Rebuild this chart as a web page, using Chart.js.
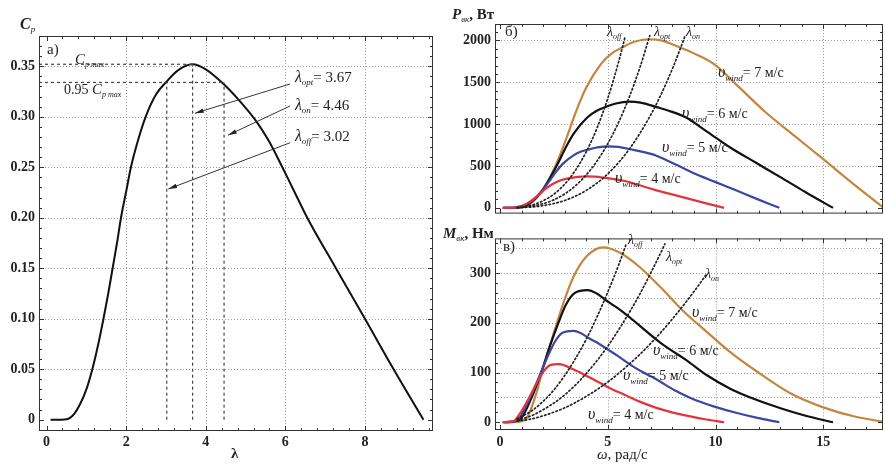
<!DOCTYPE html>
<html>
<head>
<meta charset="utf-8">
<script src="https://cdn.jsdelivr.net/npm/chart.js@4"></script>
<style>
  body { margin: 0; width: 885px; height: 464px; overflow: hidden; background: #fff; }
  canvas { position: absolute; }
</style>
</head>
<body>
<canvas id="cpChart" width="440" height="464" style="left:0;top:0"></canvas>
<canvas id="powerChart" width="445" height="226" style="left:440px;top:0"></canvas>
<canvas id="torqueChart" width="445" height="238" style="left:440px;top:226px"></canvas>
<script>
// ---- a) Cp(lambda)
const lambdaVals = [0.1, 0.3, 0.55, 0.7, 0.85, 1.0, 1.15, 1.3, 1.43, 1.55, 1.66, 1.77, 1.87, 2.0, 2.12, 2.3, 2.49, 2.75, 3.02, 3.3, 3.67, 4.0, 4.46, 4.8, 5.28, 5.6, 5.9, 6.2, 6.55, 7.27, 8.0, 8.72, 9.47];
const cpVals = [0, 0, 0.001, 0.006, 0.016, 0.03, 0.05, 0.075, 0.10, 0.125, 0.15, 0.175, 0.20, 0.226, 0.25, 0.277, 0.30, 0.322, 0.335, 0.346, 0.352, 0.347, 0.332, 0.318, 0.295, 0.275, 0.252, 0.228, 0.20, 0.15, 0.10, 0.05, 0];
const lamOff = 3.02, lamOpt = 3.67, lamOn = 4.46;
const cpMax = 0.352, cp95 = 0.334;
const lambdaTicks = [0, 2, 4, 6, 8];
const cpTicks = [0, 0.05, 0.10, 0.15, 0.20, 0.25, 0.30, 0.35];

// ---- б) P(omega), one table per wind speed
const omega4 = [0.11, 0.60, 0.93, 1.26, 1.57, 1.82, 2.05, 2.33, 2.73, 3.02, 3.32, 3.62, 4.03, 4.39, 4.90, 5.27, 5.80, 6.48, 7.19, 7.98, 8.78, 9.57, 10.40];
const power4 = [0, 1, 17, 53, 107, 160, 214, 267, 320, 344, 358, 370, 376, 373, 357, 344, 320, 269, 214, 160, 107, 53, 0];
const omega5 = [0.14, 0.75, 1.16, 1.57, 1.96, 2.27, 2.56, 2.90, 3.41, 3.76, 4.13, 4.52, 5.02, 5.48, 6.11, 6.57, 7.23, 8.08, 8.97, 9.95, 10.95, 11.94, 12.96];
const power5 = [0, 2, 33, 104, 209, 313, 417, 522, 626, 672, 699, 722, 734, 728, 697, 672, 626, 526, 417, 313, 209, 104, 0];
const omega6 = [0.16, 0.90, 1.39, 1.88, 2.33, 2.71, 3.05, 3.46, 4.06, 4.49, 4.93, 5.38, 5.99, 6.52, 7.27, 7.83, 8.61, 9.62, 10.68, 11.86, 13.05, 14.22, 15.45];
const power6 = [0, 4, 58, 180, 361, 541, 721, 901, 1082, 1161, 1208, 1247, 1269, 1258, 1204, 1161, 1082, 908, 721, 541, 361, 180, 0];
const omega7 = [0.19, 1.03, 1.60, 2.16, 2.69, 3.12, 3.52, 3.99, 4.68, 5.17, 5.68, 6.20, 6.90, 7.52, 8.38, 9.02, 9.93, 11.09, 12.31, 13.67, 15.04, 16.39, 17.80];
const power7 = [0, 6, 92, 286, 572, 859, 1145, 1431, 1717, 1843, 1918, 1981, 2015, 1998, 1912, 1843, 1717, 1442, 1145, 859, 572, 286, 0];
// lambda = const loci on the power plot
const omegaOffP = [0.8, 1.5, 2, 2.5, 3, 3.5, 4, 4.5, 5, 5.5, 5.8];
const powerOff = [5, 35, 84, 163, 282, 449, 669, 953, 1308, 1741, 2041];
const omegaOptP = [0.8, 1.5, 2, 2.5, 3, 3.5, 4, 4.5, 5, 5.5, 6, 6.5, 6.95];
const powerOpt = [3, 21, 49, 96, 166, 263, 393, 559, 767, 1021, 1325, 1684, 2059];
const omegaOnP = [0.8, 1.5, 2, 3, 4, 5, 6, 7, 7.5, 8, 8.5, 8.6];
const powerOn = [2, 11, 26, 88, 208, 406, 702, 1114, 1371, 1663, 1995, 2066];
const powerTicks = [0, 500, 1000, 1500, 2000];

// ---- в) M(omega)
const torque4 = [0, 1.7, 18, 42, 68, 88, 104, 115, 117, 114, 108, 102, 93, 85, 73, 65, 55, 41.5, 30, 20, 12.2, 5.5, 0];
const torque5 = [0, 2.7, 28, 66, 107, 138, 163, 180, 184, 179, 169, 160, 146, 133, 114, 102, 87, 65, 46.5, 31.5, 19, 8.7, 0];
const torque6 = [0, 4.4, 42, 96, 155, 200, 236, 260, 266, 259, 245, 232, 212, 193, 166, 148, 126, 94, 67.5, 45.6, 27.7, 12.7, 0];
const omegaM7 = [0.19, 0.8, 1.05, 1.24, 1.7, 2.01, 2.47, 2.94, 3.40, 4.02, 4.79, 5.57, 6.49, 7.42, 8.5, 9.59, 10.8, 12.06, 13.45, 15.0, 16.5, 17.8];
const torque7 = [0, 0.5, 3, 8, 60, 111, 176, 240, 292, 334, 352, 341, 312, 273, 224, 182, 137, 98, 59, 30, 11, 1];
const omegaOffM = [0.8, 1.5, 2, 2.5, 3, 3.5, 4, 4.5, 5, 5.5, 5.85];
const torqueOff = [7, 24, 42, 65, 94, 128, 167, 212, 262, 316, 358];
const omegaOptM = [0.8, 1.5, 2, 3, 4, 5, 6, 6.5, 7, 7.5, 7.65];
const torqueOpt = [4, 14, 25, 55, 98, 153, 221, 259, 301, 345, 359];
const omegaOnM = [0.8, 1.5, 2, 3, 4, 5, 6, 7, 8, 9, 9.6];
const torqueOn = [2, 7, 13, 29, 52, 81, 117, 159, 208, 263, 299];
const torqueTicks = [0, 50, 100, 150, 200, 250, 300, 350];
const omegaTicks = [0, 5, 10, 15];

const colors = { v4: '#e2353b', v5: '#3b47a3', v6: '#111111', v7: '#c4863f' };

const F = (size, style) => `${style || ''} ${size}px "Liberation Serif", serif`;
const pts = (xs, ys) => xs.map((x, i) => ({ x: x, y: ys[i] }));

// draws text pieces one after another (for subscripts)
function rich(ctx, x, y, parts) {
    let cx = x;
    parts.forEach(([t, font, dy]) => {
        ctx.font = font;
        ctx.fillText(t, cx, y + (dy || 0));
        cx += ctx.measureText(t).width;
    });
}

function arrow(ctx, x1, y1, x2, y2) {
    const a = Math.atan2(y2 - y1, x2 - x1);
    ctx.beginPath();
    ctx.moveTo(x1, y1);
    ctx.lineTo(x2, y2);
    ctx.stroke();
    ctx.beginPath();
    ctx.moveTo(x2, y2);
    ctx.lineTo(x2 - 9 * Math.cos(a - 0.25), y2 - 9 * Math.sin(a - 0.25));
    ctx.lineTo(x2 - 9 * Math.cos(a + 0.25), y2 - 9 * Math.sin(a + 0.25));
    ctx.closePath();
    ctx.fill();
}

function curve(data, color, width) {
    return {
        data: data, showLine: true, borderColor: color, borderWidth: width || 2.2,
        pointRadius: 0, cubicInterpolationMode: 'monotone', fill: false,
    };
}

function dotted(data) {
    return {
        data: data, showLine: true, borderColor: '#222', borderWidth: 1.7,
        borderDash: [1.5, 2.5], borderCapStyle: 'round',
        pointRadius: 0, cubicInterpolationMode: 'monotone', fill: false,
    };
}

function dashed(data) {
    return {
        data: data, showLine: true, borderColor: '#444', borderWidth: 1.2,
        borderDash: [3, 3], pointRadius: 0, tension: 0, fill: false,
    };
}

function axis(min, max, ticks, size, horizontal, tickOpts) {
    return {
        type: 'linear', min: min, max: max,
        afterBuildTicks: (s) => { s.ticks = ticks.map((v) => ({ value: v })); },
        afterFit: (s) => { if (horizontal) s.height = size; else s.width = size; },
        grid: { display: false, drawTicks: false },
        border: { display: false },
        ticks: Object.assign({
            font: { family: 'Liberation Serif', size: 14, weight: 'bold' }, color: '#222',
            callback: (v) => String(v),
        }, tickOpts),
    };
}

// dotted grid at the tick values, frame with inward major/minor ticks (Mathematica style)
const framePlugin = {
    id: 'frame',
    beforeDatasetsDraw(chart) {
        const { ctx, chartArea: a, scales: { x, y } } = chart;
        ctx.save();
        ctx.strokeStyle = '#999';
        ctx.lineWidth = 1;
        ctx.setLineDash([1, 2]);
        x.ticks.forEach((t) => {
            if (t.value === 0) return;
            const p = Math.round(x.getPixelForValue(t.value)) + 0.5;
            ctx.beginPath(); ctx.moveTo(p, a.top); ctx.lineTo(p, a.bottom); ctx.stroke();
        });
        y.ticks.forEach((t) => {
            if (t.value === 0) return;
            const p = Math.round(y.getPixelForValue(t.value)) + 0.5;
            ctx.beginPath(); ctx.moveTo(a.left, p); ctx.lineTo(a.right, p); ctx.stroke();
        });
        ctx.restore();
    },
    afterDatasetsDraw(chart, args, opts) {
        const { ctx, chartArea: a, scales } = chart;
        ctx.save();
        ctx.strokeStyle = '#333';
        ctx.lineWidth = 1;
        ctx.strokeRect(a.left + 0.5, a.top + 0.5, a.right - a.left - 1, a.bottom - a.top - 1);
        const tickRun = (scale, step, minor, horizontal) => {
            const start = Math.ceil(scale.min / minor) * minor;
            for (let v = start; v <= scale.max + 1e-9; v += minor) {
                const major = Math.abs(v / step - Math.round(v / step)) < 1e-6;
                const len = major ? 5 : 3;
                const p = Math.round(scale.getPixelForValue(v)) + 0.5;
                ctx.beginPath();
                if (horizontal) {
                    ctx.moveTo(p, a.bottom); ctx.lineTo(p, a.bottom - len);
                    ctx.moveTo(p, a.top); ctx.lineTo(p, a.top + len);
                } else {
                    ctx.moveTo(a.left, p); ctx.lineTo(a.left + len, p);
                    ctx.moveTo(a.right, p); ctx.lineTo(a.right - len, p);
                }
                ctx.stroke();
            }
        };
        tickRun(scales.x, opts.xStep, opts.xMinor, true);
        tickRun(scales.y, opts.yStep, opts.yMinor, false);
        ctx.restore();
    },
};

const baseOptions = (pad) => ({
    responsive: false,
    animation: false,
    events: [],
    layout: { padding: pad },
    plugins: { legend: { display: false }, tooltip: { enabled: false } },
});

// ---------------- a) ----------------
const arrowLabels = [
    { name: 'opt', value: lamOpt, text: [6.24, 0.3345], from: [6.12, 0.3325], to: [3.73, 0.3035] },
    { name: 'on', value: lamOn, text: [6.24, 0.3067], from: [6.12, 0.3107], to: [4.56, 0.2818] },
    { name: 'off', value: lamOff, text: [6.24, 0.276], from: [6.12, 0.2743], to: [3.06, 0.2285] },
];

const cpNotes = {
    id: 'cpNotes',
    afterDraw(chart) {
        const { ctx, scales: { x, y } } = chart;
        ctx.save();
        ctx.fillStyle = '#222';
        ctx.strokeStyle = '#333';
        ctx.lineWidth = 1;
        ctx.textBaseline = 'alphabetic';
        rich(ctx, 47, 54, [['a)', F(15)]]);
        rich(ctx, 75, 64, [['C', F(15, 'italic')], ['p max', F(8, 'italic'), 3]]);
        rich(ctx, 64, 94, [['0.95 ', F(14)], ['C', F(15, 'italic')], ['p max', F(8, 'italic'), 3]]);
        arrowLabels.forEach((l) => {
            rich(ctx, x.getPixelForValue(l.text[0]), y.getPixelForValue(l.text[1]),
                [['λ', F(16, 'italic')], [l.name, F(9, 'italic'), 3], ['= ' + l.value.toFixed(2), F(15)]]);
            arrow(ctx, x.getPixelForValue(l.from[0]), y.getPixelForValue(l.from[1]),
                x.getPixelForValue(l.to[0]), y.getPixelForValue(l.to[1]));
        });
        rich(ctx, 20, 29, [['C', F(16, 'bold italic')], ['p', F(9, 'italic'), 3]]);
        rich(ctx, 231, 458, [['λ', F(15, 'bold')]]);
        ctx.restore();
    },
};

new Chart(document.getElementById('cpChart'), {
    type: 'scatter',
    data: {
        datasets: [
            dashed([{ x: -0.19, y: cpMax }, { x: lamOpt, y: cpMax }]),
            dashed([{ x: -0.19, y: cp95 }, { x: lamOn, y: cp95 }]),
            dashed([{ x: lamOff, y: 0 }, { x: lamOff, y: cp95 }]),
            dashed([{ x: lamOpt, y: 0 }, { x: lamOpt, y: cpMax }]),
            dashed([{ x: lamOn, y: 0 }, { x: lamOn, y: cp95 }]),
            curve(pts(lambdaVals, cpVals), '#111', 2),
        ],
    },
    options: Object.assign(baseOptions({ left: 0, top: 36, right: 7, bottom: 0 }), {
        scales: {
            x: axis(-0.19, 9.71, lambdaTicks, 33, true, { padding: 3 }),
            y: axis(-0.0112, 0.38, cpTicks, 39, false, {
                padding: 4,
                callback: (v) => (v === 0 ? '0' : v.toFixed(2)),
            }),
        },
        plugins: {
            legend: { display: false }, tooltip: { enabled: false },
            frame: { xStep: 2, xMinor: 0.4, yStep: 0.05, yMinor: 0.01 },
        },
    }),
    plugins: [framePlugin, cpNotes],
});

// ---------------- б) ----------------
function windLabel(ctx, x, y, v) {
    rich(ctx, x, y, [['υ', F(16, 'italic')], ['wind', F(9, 'italic'), 4], ['= ' + v + ' м/с', F(14)]]);
}
function lamLabel(ctx, x, y, name) {
    rich(ctx, x, y, [['λ', F(14, 'italic')], [name, F(8, 'italic'), 3]]);
}

const powerNotes = {
    id: 'powerNotes',
    afterDraw(chart) {
        const { ctx } = chart;
        ctx.save();
        ctx.fillStyle = '#222';
        rich(ctx, 65, 36, [['б)', F(15)]]);
        lamLabel(ctx, 167, 36, 'off');
        lamLabel(ctx, 214, 36, 'opt');
        lamLabel(ctx, 246, 36, 'on');
        windLabel(ctx, 278, 77, 7);
        windLabel(ctx, 242, 118, 6);
        windLabel(ctx, 222, 152, 5);
        windLabel(ctx, 175, 183, 4);
        rich(ctx, 12, 19, [['P', F(15, 'bold italic')], ['вк', F(9, 'italic'), 3], [', Вт', F(15, 'bold')]]);
        ctx.restore();
    },
};

new Chart(document.getElementById('powerChart'), {
    type: 'scatter',
    data: {
        datasets: [
            dotted(pts(omegaOffP, powerOff)),
            dotted(pts(omegaOptP, powerOpt)),
            dotted(pts(omegaOnP, powerOn)),
            curve(pts(omega4, power4), colors.v4),
            curve(pts(omega5, power5), colors.v5),
            curve(pts(omega6, power6), colors.v6),
            curve(pts(omega7, power7), colors.v7),
        ],
    },
    options: Object.assign(baseOptions({ left: 0, top: 24, right: 2, bottom: 0 }), {
        scales: {
            x: axis(-0.232, 17.77, omegaTicks, 6, true, { display: false }),
            y: axis(-69, 2197, powerTicks, 55, false, { padding: 4 }),
        },
        plugins: {
            legend: { display: false }, tooltip: { enabled: false },
            frame: { xStep: 5, xMinor: 1, yStep: 500, yMinor: 100 },
        },
    }),
    plugins: [framePlugin, powerNotes],
});

// ---------------- в) ----------------
const torqueNotes = {
    id: 'torqueNotes',
    afterDraw(chart) {
        const { ctx } = chart;
        ctx.save();
        ctx.fillStyle = '#222';
        rich(ctx, 63, 25, [['в)', F(15)]]);
        lamLabel(ctx, 188, 18, 'off');
        lamLabel(ctx, 226, 35, 'opt');
        lamLabel(ctx, 265, 52, 'on');
        windLabel(ctx, 252, 91, 7);
        windLabel(ctx, 213, 129, 6);
        windLabel(ctx, 183, 154, 5);
        windLabel(ctx, 148, 193, 4);
        rich(ctx, 3, 12, [['M', F(15, 'bold italic')], ['вк', F(9, 'italic'), 3], [', Нм', F(15, 'bold')]]);
        rich(ctx, 157, 233, [['ω', F(15, 'italic')], [', рад/с', F(15)]]);
        ctx.restore();
    },
};

new Chart(document.getElementById('torqueChart'), {
    type: 'scatter',
    data: {
        datasets: [
            dotted(pts(omegaOffM, torqueOff)),
            dotted(pts(omegaOptM, torqueOpt)),
            dotted(pts(omegaOnM, torqueOn)),
            curve(pts(omega4, torque4), colors.v4),
            curve(pts(omega5, torque5), colors.v5),
            curve(pts(omega6, torque6), colors.v6),
            curve(pts(omegaM7, torque7), colors.v7),
        ],
    },
    options: Object.assign(baseOptions({ left: 0, top: 6, right: 2, bottom: 0 }), {
        scales: {
            x: axis(-0.232, 17.77, omegaTicks, 34, true, { padding: 4 }),
            y: axis(-15.6, 370, torqueTicks, 55, false, {
                padding: 4,
                callback: (v) => (v % 100 === 0 ? String(v) : ''),
            }),
        },
        plugins: {
            legend: { display: false }, tooltip: { enabled: false },
            frame: { xStep: 5, xMinor: 1, yStep: 100, yMinor: 20 },
        },
    }),
    plugins: [framePlugin, torqueNotes],
});
</script>
</body>
</html>
